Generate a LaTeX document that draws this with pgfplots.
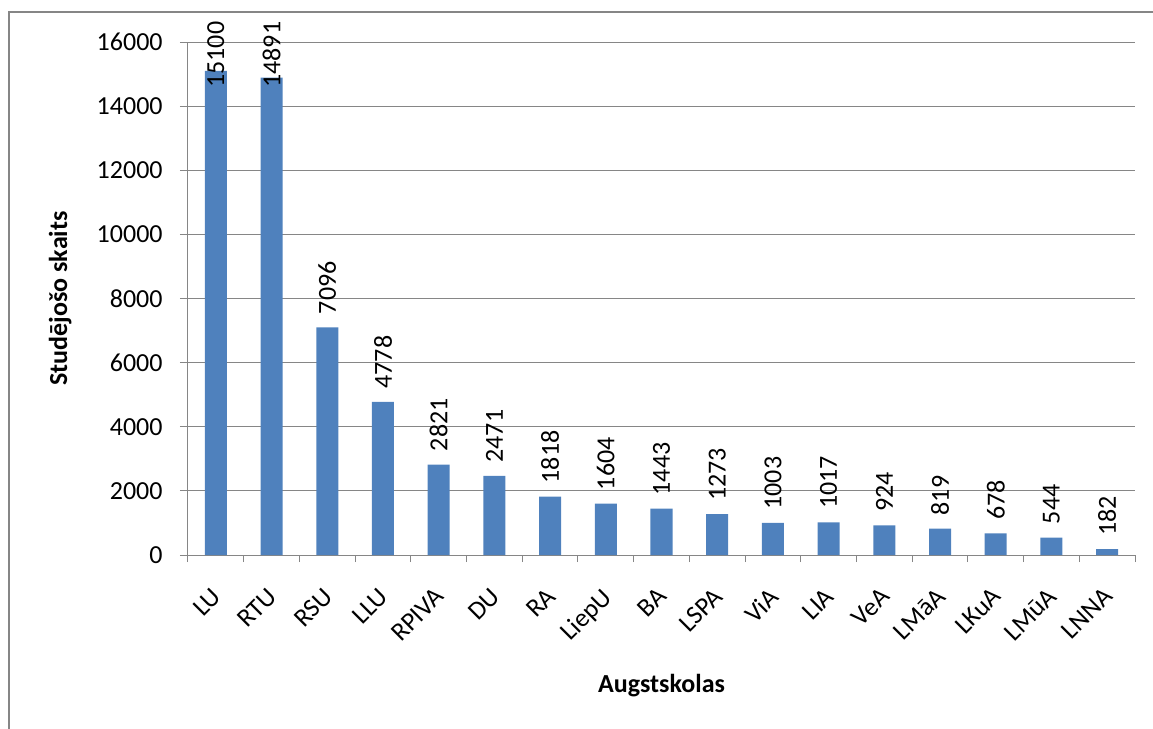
\documentclass[border=0pt]{standalone}
\usepackage{pgfplots}
\pgfplotsset{compat=1.18}
\usepackage{fontspec}
\setmainfont{Carlito}
\definecolor{barblue}{HTML}{4F81BD}
\definecolor{gridgray}{HTML}{868686}
\begin{document}
\begin{tikzpicture}
\path[use as bounding box, clip] (-94pt,-87pt) rectangle (482.5pt,277.5pt);
\draw[gridgray, line width=0.8pt] (-89.5pt,-120pt) -- (-89.5pt,271.5pt) -- (520pt,271.5pt);
\begin{axis}[
  scale only axis, width=473.5pt, height=256.5pt,
  xmin=-0.5, xmax=16.5, ymin=0, ymax=16000,
  axis x line*=bottom, axis y line*=left,
  axis line style={gridgray, line width=0.5pt, -},
  font=\fontsize{13}{15}\selectfont,
  /pgf/number format/1000 sep={},
  /pgf/number format/assume math mode=true,
  scaled y ticks=false,
  ytick={0,2000,...,16000},
  ymajorgrids, grid style={gridgray, line width=0.5pt},
  xtick={0,...,16},
  xticklabels={LU,RTU,RSU,LLU,RPIVA,DU,RA,LiepU,BA,LSPA,ViA,LIA,VeA,LMāA,LKuA,LMūA,LNNA},
  minor xtick={-0.5,0.5,...,16.5},
  tick align=outside,
  major tick length=4pt, minor tick length=3.5pt,
  major x tick style={draw=none},
  tick style={gridgray, line width=0.5pt},
  minor x tick style={gridgray, line width=0.5pt},
  yticklabel style={anchor=east, inner sep=0pt, xshift=-8.5pt},
  xticklabel style={xshift=-2.5pt, yshift=-11.5pt, rotate=45, anchor=north east, inner sep=0pt},
  xlabel={\bfseries Augstskolas},
  xlabel style={at={(axis description cs:0.5,-0.269)}, anchor=base, inner sep=0pt},
  ylabel={\bfseries Studējošo skaits},
  ylabel style={at={(axis description cs:-0.1225,0.5)}, anchor=south, inner sep=0pt},
]
\addplot[ybar, bar width=11pt, fill=barblue, draw=none,
  nodes near coords, point meta=rawy,
  visualization depends on={rawy \as \rawy},
  every node near coord/.append style={yshift={6.5+min(0,(14160-\rawy)*0.016034)}, rotate=90, anchor=west, inner sep=0pt, font=\fontsize{13}{15}\selectfont}]
coordinates {(0,15100) (1,14891) (2,7096) (3,4778) (4,2821) (5,2471) (6,1818) (7,1604) (8,1443) (9,1273) (10,1003) (11,1017) (12,924) (13,819) (14,678) (15,544) (16,182)};
\end{axis}
\end{tikzpicture}
\end{document}
